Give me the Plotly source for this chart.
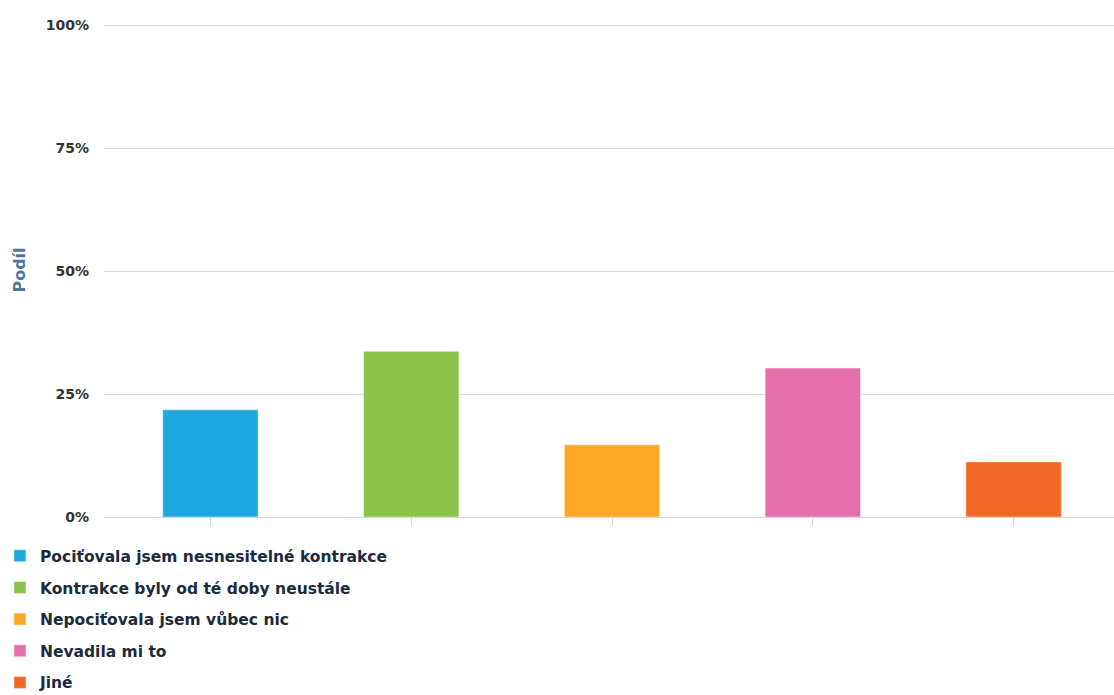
import plotly.graph_objects as go

# Survey answers and their shares (percent)
categories = [
    "Pociťovala jsem nesnesitelné kontrakce",
    "Kontrakce byly od té doby neustále",
    "Nepociťovala jsem vůbec nic",
    "Nevadila mi to",
    "Jiné",
]
shares = [21.8, 33.7, 14.7, 30.3, 11.2]
colors = ["#1fa8e0", "#8bc34a", "#fba826", "#e56fab", "#f06723"]
y_ticks = [0, 25, 50, 75, 100]
y_ticklabels = ["0%", "25%", "50%", "75%", "100%"]

fig = go.Figure()
for i, (name, val, col) in enumerate(zip(categories, shares, colors)):
    fig.add_trace(go.Bar(
        x=[i], y=[val], name=name,
        marker=dict(color=col, line=dict(color="rgba(255,255,255,0.45)", width=1)),
        width=0.475,
        legendgroup=f"g{i}",
        hovertemplate="%{y:.1f}%<extra>" + name + "</extra>",
    ))

fig.update_layout(
    width=1114, height=695,
    margin=dict(l=104, r=0, t=23, b=178, autoexpand=False),
    paper_bgcolor="white", plot_bgcolor="white",
    barmode="overlay",
    showlegend=True,
    legend=dict(
        orientation="v", x=-0.103, xanchor="left", y=-0.045, yanchor="top",
        font=dict(family="DejaVu Sans", size=15.5, color="#1c2b3c", weight="bold"),
        tracegroupgap=8.5, itemwidth=30, bgcolor="rgba(0,0,0,0)",
    ),
    font=dict(family="DejaVu Sans"),
)
fig.update_xaxes(
    range=[-0.53, 4.5], tickmode="array", tickvals=list(range(len(categories))),
    showticklabels=False, ticks="outside", ticklen=8, tickcolor="#ccd6eb",
    showline=True, linecolor="#ccd6eb", linewidth=1, showgrid=False, zeroline=False,
)
fig.update_yaxes(
    range=[0, 100.5], tickmode="array", tickvals=y_ticks, ticktext=y_ticklabels,
    showgrid=True, gridcolor="#d9d9d9", gridwidth=1, zeroline=False,
    tickfont=dict(family="DejaVu Sans", size=14, color="#333333", weight="bold"),
    ticks="", ticklabelstandoff=14,
    title=dict(text="Podíl", font=dict(family="DejaVu Sans", size=16, color="#4d759e", weight="bold"), standoff=16),
)

fig.write_html("out.html")
